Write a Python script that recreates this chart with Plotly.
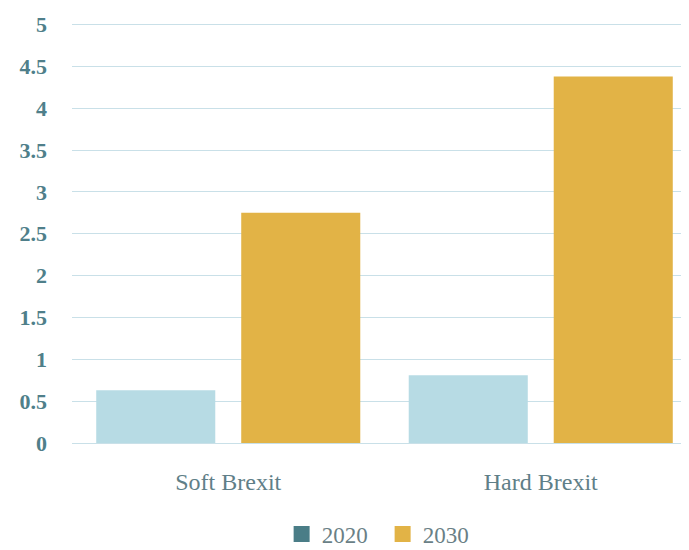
import plotly.graph_objects as go

categories = ["Soft Brexit", "Hard Brexit"]
series_names = ["2020", "2030"]
values_2020 = [0.63, 0.81]
values_2030 = [2.75, 4.38]
y_ticks = [0, 0.5, 1, 1.5, 2, 2.5, 3, 3.5, 4, 4.5, 5]
y_tick_labels = ["0", "0.5", "1", "1.5", "2", "2.5", "3", "3.5", "4", "4.5", "5"]

bar_colors = ["#b7dbe4", "#e2b346"]
legend_colors = ["#4a7d87", "#e2b346"]

fig = go.Figure()
for name, vals, bc in zip(series_names, [values_2020, values_2030], bar_colors):
    fig.add_trace(go.Bar(x=categories, y=vals, name=name, marker_color=bc,
                         marker_line_width=0, showlegend=False, offsetgroup=name))
for name, lc in zip(series_names, legend_colors):
    fig.add_trace(go.Scatter(x=[None], y=[None], mode="markers", name=name,
                             marker=dict(symbol="square", size=17, color=lc)))

fig.update_layout(
    width=689, height=550,
    margin=dict(l=64, r=0, t=14, b=115, autoexpand=False),
    plot_bgcolor="white", paper_bgcolor="white",
    barmode="group", bargap=0.072, bargroupgap=0.179,
    font=dict(family="Liberation Serif", color="#5f7f88"),
    legend=dict(orientation="h", x=0.497, xanchor="center", y=-0.165, yanchor="top",
                font=dict(size=23, color="#6a7f86"), entrywidth=56,
                traceorder="normal"),
    xaxis=dict(range=[-0.5, 1.5], showgrid=False, showline=False,
               tickfont=dict(size=24, color="#5f7f88"), ticks="", ticklabelstandoff=22),
    yaxis=dict(range=[0, 5.03], tickvals=y_ticks, ticktext=y_tick_labels,
               showgrid=True, gridcolor="#c9e0e8", gridwidth=1.2,
               zeroline=True, zerolinecolor="#c9e0e8", zerolinewidth=1.2,
               tickfont=dict(size=22, color="#4f7f8a", family="Liberation Serif", weight="bold"),
               ticks="", ticklabelstandoff=24),
)

fig.write_html("out.html")
